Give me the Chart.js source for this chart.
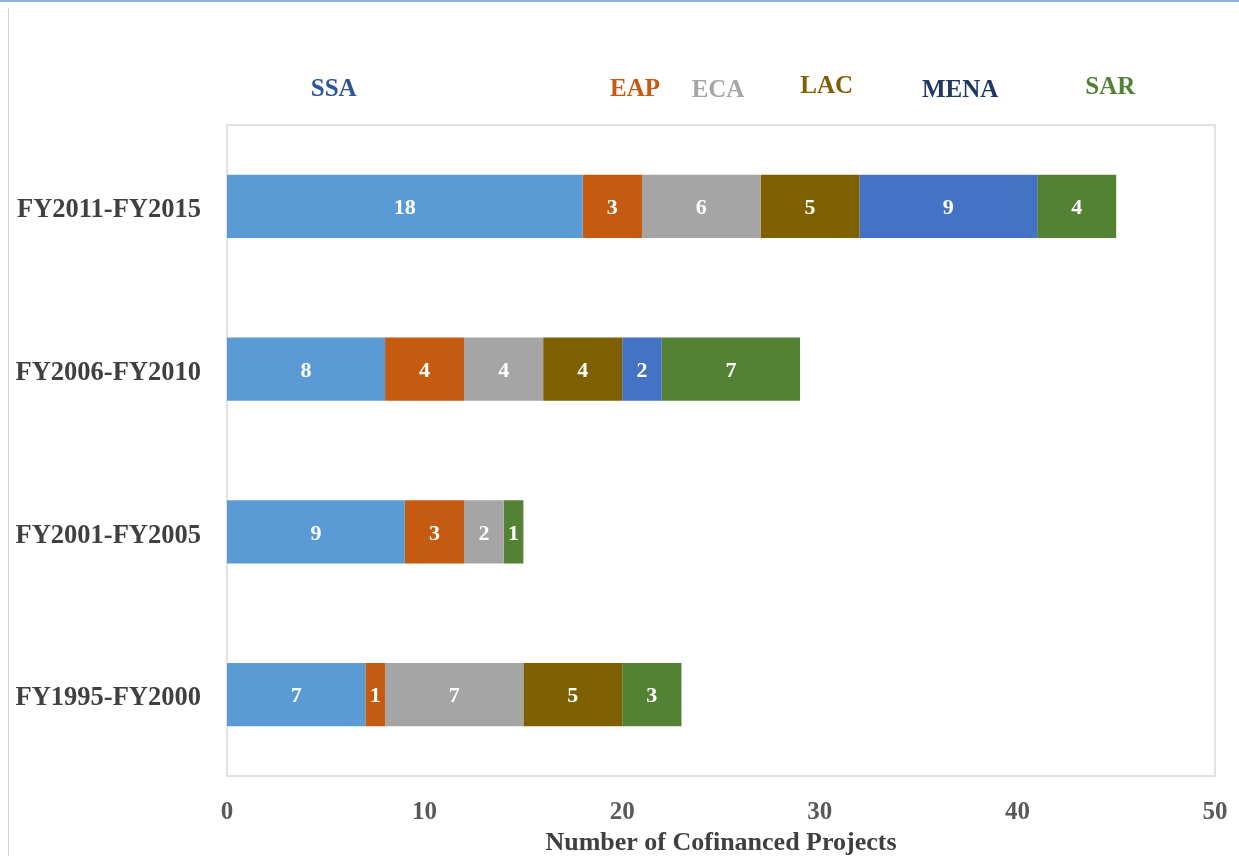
<!DOCTYPE html>
<html>
<head>
<meta charset="utf-8">
<title>Cofinanced Projects by Region</title>
<script src="https://cdn.jsdelivr.net/npm/chart.js@4/dist/chart.umd.min.js"></script>
<style>
  html, body { margin: 0; padding: 0; background: #fff; }
  .frame { position: relative; width: 1239px; height: 856px; overflow: hidden; }
  .frame::before { content: ''; position: absolute; left: 0; top: 0; right: 0; height: 2px; background: #8db4e2; }
  .frame::after { content: ''; position: absolute; left: 8px; top: 8px; bottom: 0; width: 1px; background: #d4d4d4; }
  canvas { display: block; }
</style>
</head>
<body>
<div class="frame">
  <canvas id="regionChart" width="1239" height="856"></canvas>
</div>
<script>
const categories = ['FY2011-FY2015', 'FY2006-FY2010', 'FY2001-FY2005', 'FY1995-FY2000'];
const regions = ['SSA', 'EAP', 'ECA', 'LAC', 'MENA', 'SAR'];
const ssa = [18, 8, 9, 7];
const eap = [3, 4, 3, 1];
const eca = [6, 4, 2, 7];
const lac = [5, 4, 0, 5];
const mena = [9, 2, 0, 0];
const sar = [4, 7, 1, 3];
const xTicks = [0, 10, 20, 30, 40, 50];

const serif = '"Liberation Serif", "DejaVu Serif", serif';
const barColors = ['#5b9bd5', '#c55a11', '#a5a5a5', '#7f6000', '#4472c4', '#548235'];
const nameColors = ['#2f5597', '#c55a11', '#a5a5a5', '#7f6000', '#1f3864', '#548235'];

// region names sit above the plot, placed in axis units
const regionHeader = {
  id: 'regionHeader',
  afterDraw(c, args, opts) {
    const { ctx, chartArea } = c;
    const xs = c.scales.x;
    ctx.save();
    ctx.font = `bold 25px ${serif}`;
    ctx.textAlign = 'center';
    ctx.textBaseline = 'middle';
    regions.forEach((name, i) => {
      ctx.fillStyle = nameColors[i];
      ctx.fillText(name, xs.getPixelForValue(opts.at[i]), chartArea.top - opts.rise[i]);
    });
    ctx.restore();
  }
};

// white value in the middle of every non-empty segment
const segmentValues = {
  id: 'segmentValues',
  afterDatasetsDraw(c) {
    const { ctx } = c;
    ctx.save();
    ctx.font = `bold 22px ${serif}`;
    ctx.fillStyle = '#ffffff';
    ctx.textAlign = 'center';
    ctx.textBaseline = 'middle';
    c.data.datasets.forEach((ds, i) => {
      c.getDatasetMeta(i).data.forEach((bar, j) => {
        const v = ds.data[j];
        if (!v) return;
        const { x, y, base } = bar.getProps(['x', 'y', 'base'], true);
        ctx.fillText(String(v), (x + base) / 2, y + 2);
      });
    });
    ctx.restore();
  }
};

// light box round the plot area
const plotBox = {
  id: 'plotBox',
  beforeDatasetsDraw(c) {
    const { ctx, chartArea: a } = c;
    ctx.save();
    ctx.strokeStyle = '#d9d9d9';
    ctx.lineWidth = 1.5;
    ctx.strokeRect(a.left, a.top, a.right - a.left, a.bottom - a.top);
    ctx.restore();
  }
};

const series = [ssa, eap, eca, lac, mena, sar];

new Chart(document.getElementById('regionChart'), {
  type: 'bar',
  data: {
    labels: categories,
    datasets: regions.map((name, i) => ({
      label: name,
      data: series[i],
      backgroundColor: barColors[i],
      borderWidth: 0,
      categoryPercentage: 1,
      barPercentage: 0.39
    }))
  },
  options: {
    indexAxis: 'y',
    responsive: false,
    animation: false,
    layout: { padding: { top: 125, right: 24, bottom: 0, left: 0 } },
    plugins: {
      legend: { display: false },
      tooltip: { enabled: false },
      regionHeader: {
        at: [5.4, 20.65, 24.85, 30.35, 37.1, 44.7],
        rise: [35, 35, 34, 38, 34, 37]
      }
    },
    scales: {
      x: {
        stacked: true,
        min: 0,
        max: 50,
        afterBuildTicks: (s) => { s.ticks = xTicks.map((v) => ({ value: v })); },
        afterFit: (s) => {
          s.height = 80;
          s.paddingLeft = 0;
          s.paddingRight = 0;
        },
        grid: { display: false, drawTicks: false },
        border: { display: false },
        ticks: {
          padding: 22,
          color: '#595959',
          font: { family: serif, size: 25, weight: 'bold' }
        },
        title: {
          display: true,
          text: 'Number of Cofinanced Projects',
          color: '#404040',
          padding: { top: 2, bottom: 0 },
          font: { family: serif, size: 26, weight: 'bold', lineHeight: 1 }
        }
      },
      y: {
        stacked: true,
        afterFit: (s) => { s.width = 227; },
        grid: { display: false, drawTicks: false },
        border: { display: false },
        ticks: {
          padding: 26,
          labelOffset: 4,
          color: '#404040',
          font: { family: serif, size: 26.5, weight: 'bold' }
        }
      }
    }
  },
  plugins: [plotBox, segmentValues, regionHeader]
});
</script>
</body>
</html>
